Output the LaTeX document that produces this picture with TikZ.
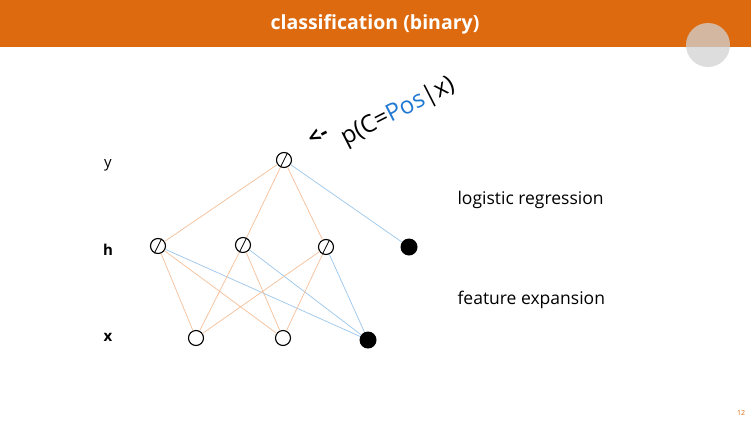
\documentclass[tikz,border=0pt]{standalone}
\usepackage{fontspec}
\setmainfont{Open Sans}
\usetikzlibrary{arrows.meta}
\definecolor{hdr}{HTML}{DD6A0F}
\definecolor{eor}{HTML}{F5BF98}
\definecolor{ebl}{HTML}{9CC6EC}
\definecolor{pblue}{HTML}{1F78D1}
\tikzset{
  unit/.style={circle,draw=black,line width=1.1pt,minimum size=15pt,inner sep=0pt,fill=white},
  biasu/.style={circle,fill=black,minimum size=17pt,inner sep=0pt},
  oe/.style={draw=eor,line width=0.7pt},
  be/.style={draw=ebl,line width=0.7pt},
  lab/.style={font=\fontsize{17.5}{20}\selectfont,anchor=west},
  axl/.style={font=\fontsize{15}{18}\selectfont}
}
\newcommand{\sig}[1]{\draw[line width=0.8pt] ([shift={(-8pt,-5pt)}]#1) .. controls ([shift={(-2pt,-4pt)}]#1) and ([shift={(2pt,4pt)}]#1) .. ([shift={(7pt,7pt)}]#1);}
\begin{document}
\begin{tikzpicture}[x=1pt,y=-1pt]
\useasboundingbox (0,0) rectangle (751,423);
\fill[white] (0,0) rectangle (751,423);
\fill[hdr] (0,0) rectangle (751,47);
\node[text=white,font=\fontsize{19.5}{22}\selectfont\bfseries] (title) at (375,24) {classification (binary)};
\fill[gray!35,opacity=0.75] (708,45) circle (22);
% nodes
\node[unit] (y) at (284,160) {};
\node[unit] (h1) at (158,246) {};
\node[unit] (h2) at (243,245) {};
\node[unit] (h3) at (326,247) {};
\node[biasu] (hb) at (409,247) {};
\node[unit] (x1) at (196,338) {};
\node[unit] (x2) at (283,338) {};
\node[biasu] (xb) at (368,340) {};
% edges
\path[oe] (y) -- (h1); \path[oe] (y) -- (h2); \path[oe] (y) -- (h3);
\path[be] (y) -- (hb);
\foreach \h in {h1,h2,h3}{
  \path[oe] (\h) -- (x1); \path[oe] (\h) -- (x2); \path[be] (\h) -- (xb);
}
\sig{y}\sig{h1}\sig{h2}\sig{h3}
% labels
\node[axl] (ly) at (108,165) {y};
\node[axl,font=\fontsize{15}{18}\selectfont\bfseries] (lh) at (108,250) {h};
\node[axl,font=\fontsize{15}{18}\selectfont\bfseries] (lx) at (108,337) {x};
\node[lab] (lr) at (454,200) {logistic regression};
\node[lab] (fe) at (454,300) {feature expansion};
\node[text=hdr,font=\fontsize{7}{8}\selectfont] (pg) at (741,413) {12};
% annotation
\node[rotate=27,font=\fontsize{22}{24}\selectfont\bfseries,inner sep=0pt] (arr) at (318,136) {<-};
\node[rotate=27,font=\fontsize{24}{26}\selectfont,inner sep=0pt] (ann) at (398,112) {p(C=\textcolor{pblue}{Pos}|x)};
\end{tikzpicture}
\end{document}
